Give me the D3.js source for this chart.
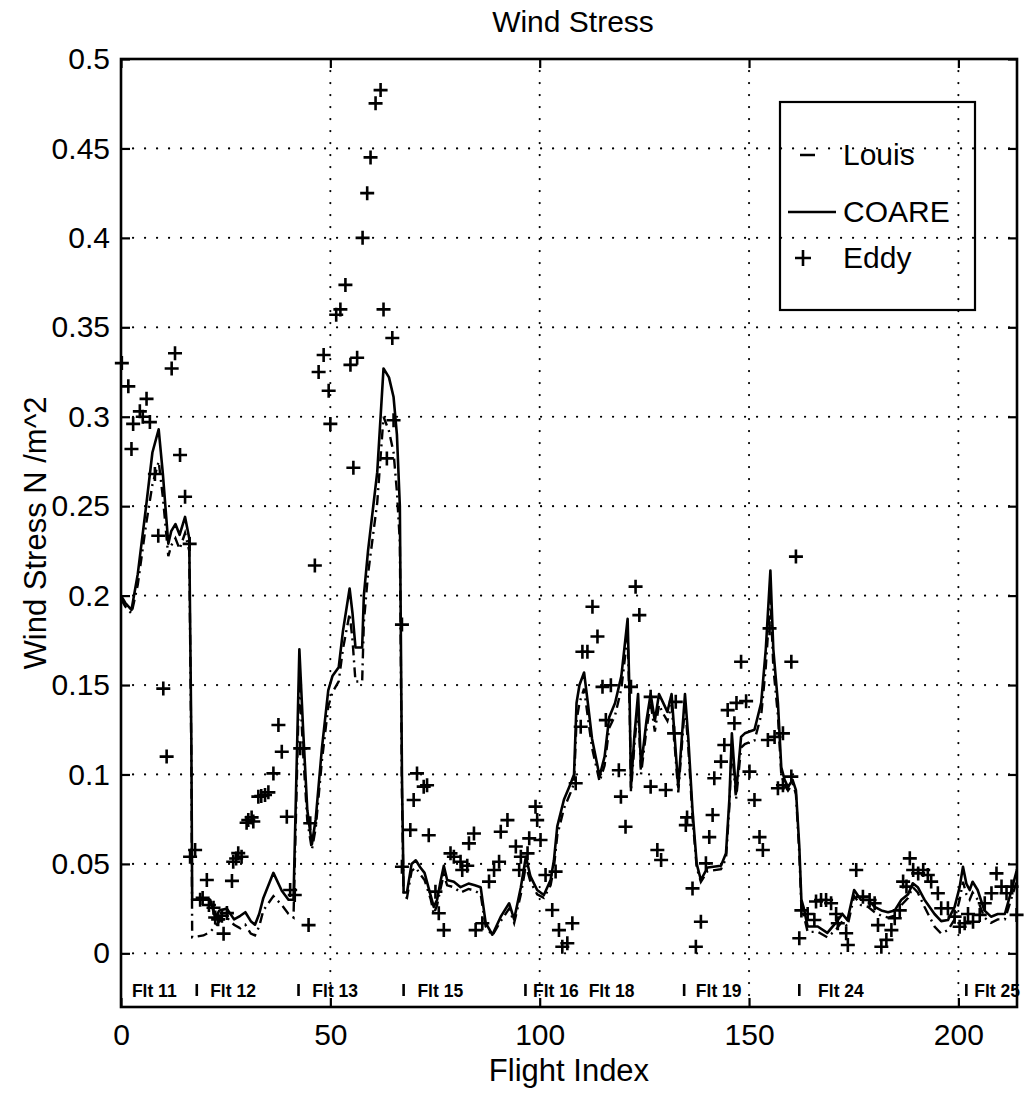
<!DOCTYPE html>
<html>
<head>
<meta charset="utf-8">
<script src="https://cdn.jsdelivr.net/npm/d3@7"></script>
<style>
  html, body { margin: 0; padding: 0; background: #fff; }
  svg { display: block; }
  text { font-family: "Liberation Sans", Arial, Helvetica, sans-serif; fill: #000; }
</style>
</head>
<body>
<svg id="chart" width="1024" height="1093"></svg>
<script>
// ---------------- DATA ----------------
const chartTitle = "Wind Stress";
const xLabel = "Flight Index";
const yLabel = "Wind Stress N /m^2";

const xTicks = [0, 50, 100, 150, 200];
const xTickLabels = ["0", "50", "100", "150", "200"];
const yTicks = [0, 0.05, 0.1, 0.15, 0.2, 0.25, 0.3, 0.35, 0.4, 0.45, 0.5];
const yTickLabels = ["0", "0.05", "0.1", "0.15", "0.2", "0.25", "0.3", "0.35", "0.4", "0.45", "0.5"];

const seriesNames = ["Louis", "COARE", "Eddy"];

// model lines (flight index breakpoints)
const lineIdx = [0, 1, 2.5, 4, 6, 7.5, 9, 10, 11.3, 12, 13, 14, 15.3, 16.3, 16.8, 17, 19.7, 21.3, 22.5, 23.5,
  25.3, 27, 28.5, 29.7, 31, 32, 33, 34, 36.4, 38.4, 40, 41.2, 42.6, 43.5, 44.5, 45.6, 46.5, 48, 49.5, 50.5,
  52, 53, 54.6, 55.3, 56, 57.6, 58, 59, 61.2, 62.7, 64, 65.1, 65.9, 66.6, 67.1, 67.5, 68.3, 69.4, 70.4, 71.5,
  72.5, 74, 74.7, 75.5, 76.3, 77.1, 77.9, 79.5, 81.1, 83, 84.5, 85.9, 87.1, 88.7, 90.7, 92.7, 93.9, 95.5, 96.7, 97.8,
  99.4, 101, 102.6, 103.4, 104.2, 105.8, 107.4, 108.2, 108.8, 109.5, 110.6, 111.5, 112.5, 114.3, 115.5, 116.6, 118, 119.5, 121, 121.5,
  121.8, 122.6, 123.5, 124.2, 125.5, 126.5, 127.5, 128.5, 129.5, 130.5, 131.5, 133.1, 134.7, 135.5, 136.5, 137.5, 138.5, 140.1, 143.3, 144.5,
  145.3, 145.9, 146.9, 148.1, 149, 151.3, 152.9, 154, 155.1, 155.8, 156.9, 157.7, 158.5, 159.3, 160.4, 161.2, 162, 162.5, 163, 164,
  166.4, 168.7, 170.7, 172.3, 173.5, 175.1, 176.7, 178.4, 180, 181.6, 183.2, 184.8, 186.4, 188, 189.1, 190.3, 191.9, 194.3, 195.9, 197.5,
  199.1, 200.3, 201.1, 201.9, 202.7, 203.4, 204.6, 206.2, 207.8, 209.4, 211.1, 212.7, 213.9, 214];

const coareVals = [0.200, 0.196, 0.192, 0.212, 0.250, 0.280, 0.293, 0.268, 0.229, 0.236, 0.240, 0.234, 0.244, 0.232, 0.120, 0.030, 0.030, 0.030, 0.020, 0.024,
  0.025, 0.019, 0.021, 0.023, 0.018, 0.016, 0.022, 0.031, 0.045, 0.035, 0.030, 0.030, 0.170, 0.125, 0.080, 0.061, 0.075, 0.115, 0.147, 0.155,
  0.160, 0.180, 0.204, 0.190, 0.171, 0.171, 0.200, 0.225, 0.269, 0.327, 0.322, 0.311, 0.290, 0.250, 0.100, 0.034, 0.034, 0.050, 0.052, 0.048,
  0.045, 0.032, 0.026, 0.030, 0.040, 0.049, 0.041, 0.040, 0.037, 0.039, 0.038, 0.037, 0.017, 0.0104, 0.0205, 0.028, 0.019, 0.037, 0.054, 0.043,
  0.0354, 0.0326, 0.041, 0.052, 0.071, 0.086, 0.095, 0.100, 0.140, 0.150, 0.157, 0.140, 0.120, 0.099, 0.110, 0.132, 0.140, 0.155, 0.187, 0.140,
  0.093, 0.121, 0.145, 0.104, 0.130, 0.145, 0.130, 0.145, 0.140, 0.135, 0.145, 0.093, 0.145, 0.120, 0.080, 0.050, 0.041, 0.048, 0.049, 0.056,
  0.086, 0.123, 0.0895, 0.121, 0.123, 0.125, 0.140, 0.170, 0.214, 0.170, 0.140, 0.104, 0.097, 0.093, 0.097, 0.0913, 0.060, 0.030, 0.026, 0.015,
  0.015, 0.0114, 0.017, 0.022, 0.0186, 0.0354, 0.030, 0.030, 0.026, 0.024, 0.023, 0.024, 0.030, 0.033, 0.0392, 0.037, 0.030, 0.022, 0.018, 0.0186,
  0.026, 0.037, 0.0484, 0.039, 0.0354, 0.040, 0.0354, 0.024, 0.0205, 0.022, 0.022, 0.0354, 0.046, 0.047];

const louisVals = [0.198, 0.194, 0.190, 0.206, 0.240, 0.262, 0.275, 0.255, 0.222, 0.228, 0.232, 0.226, 0.235, 0.225, 0.110, 0.009, 0.010, 0.012, 0.015, 0.018,
  0.020, 0.016, 0.014, 0.016, 0.011, 0.010, 0.015, 0.024, 0.032, 0.027, 0.022, 0.020, 0.155, 0.112, 0.074, 0.058, 0.070, 0.108, 0.138, 0.146,
  0.152, 0.170, 0.190, 0.175, 0.152, 0.152, 0.185, 0.212, 0.252, 0.300, 0.292, 0.280, 0.258, 0.230, 0.090, 0.032, 0.031, 0.046, 0.048, 0.044,
  0.041, 0.030, 0.022, 0.027, 0.036, 0.044, 0.038, 0.037, 0.034, 0.036, 0.035, 0.033, 0.015, 0.010, 0.018, 0.025, 0.017, 0.033, 0.049, 0.040,
  0.033, 0.031, 0.038, 0.048, 0.066, 0.081, 0.090, 0.095, 0.130, 0.140, 0.148, 0.132, 0.115, 0.096, 0.105, 0.126, 0.133, 0.148, 0.178, 0.135,
  0.090, 0.116, 0.139, 0.100, 0.125, 0.140, 0.124, 0.139, 0.134, 0.130, 0.139, 0.090, 0.139, 0.115, 0.076, 0.048, 0.040, 0.046, 0.047, 0.053,
  0.082, 0.117, 0.086, 0.115, 0.117, 0.119, 0.133, 0.160, 0.200, 0.160, 0.133, 0.100, 0.094, 0.091, 0.095, 0.089, 0.056, 0.026, 0.022, 0.012,
  0.012, 0.009, 0.013, 0.018, 0.015, 0.032, 0.027, 0.026, 0.023, 0.021, 0.020, 0.021, 0.027, 0.031, 0.037, 0.034, 0.026, 0.015, 0.011, 0.013,
  0.019, 0.030, 0.040, 0.033, 0.030, 0.034, 0.030, 0.020, 0.017, 0.019, 0.019, 0.031, 0.040, 0.041];

// eddy correlation measurements
const eddyIdx = [0.2, 1.75, 2.5, 2.9, 4.5, 5.2, 6.1, 6.9, 8.1, 8.9, 10.1, 10.9, 12.1, 12.9, 14.1, 15.3, 16.4, 16.5, 17.7,
  18.9, 19.5, 20.5, 21.0, 22.1, 22.5, 23.2, 24.1, 24.5, 25.3, 26.5, 26.8, 27.5, 28.0, 28.8, 30.0, 30.4, 31.2, 31.6, 32.8,
  33.5, 34.4, 35.2, 36.4, 37.6, 38.4, 39.6, 40.4, 41.5, 42.8, 43.6, 44.8, 45.2, 46.3,
  47.2, 48.4, 49.6, 50.0, 51.4, 52.4, 53.6, 54.8, 55.5, 56.4, 57.7, 58.8, 59.6, 60.8, 62.0, 62.7, 63.5, 64.8, 65.1, 67.1, 67.1,
  69.1, 69.9, 70.7, 72.3, 73.1, 73.5, 75.1, 75.9, 77.1, 78.7, 79.5, 81.1, 81.5, 82.7, 83.1, 84.3, 84.7, 86.3, 87.9, 89.1,
  90.3, 90.7, 92.3, 94.3, 95.1, 95.5, 97.1, 97.5, 99.0, 99.4, 100.2, 101.4, 103.0, 103.8, 104.6, 105.4, 106.6, 107.8,
  108.6, 109.8, 110.2, 111.4, 112.6, 113.8, 115.0, 115.8, 117.0, 118.9, 119.4, 120.5, 121.8, 122.9, 123.8, 126.5, 126.5,
  128.1, 129.0, 130.1, 132.1, 132.5, 134.9, 135.2, 136.5, 137.3, 138.5, 139.7, 140.5, 141.3, 141.7, 143.3, 144.1, 144.9, 146.5,
  147.0, 148.1, 149.3, 150.1, 151.3, 152.5, 153.3, 154.5, 154.9, 156.1, 156.9, 158.1, 158.1, 160.1, 160.1, 161.2,
  162.0, 162.5, 164.0, 165.6, 166.0, 167.2, 168.4, 169.6, 170.8, 171.2, 173.2, 173.6, 175.6, 177.2, 178.8, 180.0, 180.8,
  181.6, 182.8, 184.0, 184.8, 186.0, 186.8, 187.6, 188.4, 189.2, 190.4, 191.6, 192.7, 193.5, 195.1, 195.9, 197.5, 199.1,
  200.3, 201.5, 202.3, 203.5, 205.1, 206.3, 207.9, 209.1, 210.3, 211.5, 212.7, 213.9];

const eddyVals = [0.330, 0.317, 0.282, 0.296, 0.303, 0.300, 0.310, 0.297, 0.268, 0.2335, 0.148, 0.110, 0.327, 0.3355, 0.2786, 0.2553, 0.2289, 0.054, 0.0578,
  0.030, 0.031, 0.041, 0.027, 0.0255, 0.020, 0.019, 0.021, 0.011, 0.0225, 0.0405, 0.0512, 0.053, 0.056, 0.054, 0.073, 0.0745, 0.076, 0.0737, 0.0876,
  0.088, 0.0885, 0.090, 0.1006, 0.1277, 0.1127, 0.0764, 0.0354, 0.0326, 0.1146, 0.1146, 0.0158, 0.0727, 0.2168,
  0.325, 0.3345, 0.3145, 0.296, 0.357, 0.360, 0.3737, 0.329, 0.2715, 0.333, 0.400, 0.425, 0.445, 0.4752, 0.4826, 0.360, 0.2767, 0.344, 0.298, 0.1838, 0.0484,
  0.069, 0.0857, 0.1006, 0.0932, 0.094, 0.066, 0.0345, 0.0224, 0.013, 0.0559, 0.054, 0.0512, 0.0466, 0.049, 0.0615, 0.067, 0.013, 0.0168, 0.0401, 0.0466,
  0.0512, 0.068, 0.0745, 0.0597, 0.0466, 0.054, 0.0559, 0.0643, 0.082, 0.0745, 0.0634, 0.0438, 0.0242, 0.0457, 0.013, 0.0037, 0.0056, 0.0168,
  0.0951, 0.1267, 0.1686, 0.1686, 0.1938, 0.1771, 0.149, 0.1304, 0.1499, 0.1024, 0.0876, 0.0708, 0.149, 0.205, 0.1891, 0.1434, 0.0932,
  0.0578, 0.0522, 0.0913, 0.123, 0.1406, 0.0717, 0.076, 0.0363, 0.0037, 0.0177, 0.0503, 0.065, 0.0773, 0.0979, 0.1072, 0.1165, 0.136, 0.1286,
  0.140, 0.163, 0.141, 0.1016, 0.0857, 0.065, 0.0578, 0.1193, 0.1817, 0.121, 0.0923, 0.123, 0.094, 0.0988, 0.163, 0.2218,
  0.0084, 0.024, 0.022, 0.0186, 0.029, 0.0298, 0.0298, 0.028, 0.022, 0.0168, 0.0112, 0.0047, 0.0466, 0.0317, 0.0298, 0.028, 0.0158,
  0.0037, 0.0075, 0.013, 0.0196, 0.024, 0.0401, 0.0373, 0.0531, 0.0466, 0.0447, 0.0466, 0.0438, 0.0401, 0.0336, 0.0252, 0.0252, 0.0205,
  0.0149, 0.0168, 0.022, 0.0177, 0.0215, 0.028, 0.0336, 0.0447, 0.0373, 0.0336, 0.0373, 0.0215];

// flight annotations (in flight-index units)
const flightNames = ["Flt 11", "Flt 12", "Flt 13", "Flt 15", "Flt 16", "Flt 18", "Flt 19", "Flt 24", "Flt 25"];
const flightTextIdx = [2.6, 21.3, 45.7, 70.8, 98.4, 111.7, 137.3, 166.5, 203.8];
const flightBreakIdx = [18.1, 42.4, 67.5, 96.6, 134.5, 162.0, 201.9];

// ---------------- DRAW ----------------
const svg = d3.select("#chart");
const L = 121, R = 1017, T = 59, B = 1007;
const x = d3.scaleLinear().domain([0, 214]).range([L, R]);
const y = d3.scaleLinear().domain([-0.03, 0.5]).range([B, T]);

// grid (dotted)
const grid = svg.append("g").attr("stroke", "#000").attr("stroke-width", 2.2)
  .attr("stroke-dasharray", "0.1,11.9").attr("stroke-linecap", "round");
grid.selectAll("line.gx").data(xTicks.filter(d => d > 0)).join("line")
  .attr("x1", d => x(d)).attr("x2", d => x(d)).attr("y1", T).attr("y2", B);
grid.selectAll("line.gy").data(yTicks.filter(d => d < 0.5)).join("line")
  .attr("x1", L).attr("x2", R).attr("y1", d => y(d)).attr("y2", d => y(d));

// clip for lines
svg.append("clipPath").attr("id", "plotclip").append("rect")
  .attr("x", L).attr("y", T).attr("width", R - L).attr("height", B - T);

const lineGen = vals => d3.line().x((d, i) => x(lineIdx[i])).y((d, i) => y(vals[i]))(vals);

svg.append("path").attr("d", lineGen(louisVals)).attr("fill", "none").attr("stroke", "#000")
  .attr("stroke-width", 2.4).attr("stroke-dasharray", "10,5,2,5").attr("clip-path", "url(#plotclip)");
svg.append("path").attr("d", lineGen(coareVals)).attr("fill", "none").attr("stroke", "#000")
  .attr("stroke-width", 2.6).attr("stroke-linejoin", "round").attr("clip-path", "url(#plotclip)");

// eddy plus markers
const plusPath = "M-7,0H7M0,-7V7";
svg.append("g").selectAll("path").data(eddyIdx).join("path")
  .attr("transform", (d, i) => `translate(${x(d)},${y(eddyVals[i])})`)
  .attr("d", plusPath).attr("stroke", "#000").attr("stroke-width", 2.6).attr("fill", "none");

// axes
const fontSize = 30;
const axL = svg.append("g").attr("transform", `translate(${L},0)`)
  .call(d3.axisLeft(y).tickValues(yTicks).tickFormat((d, i) => yTickLabels[i]).tickSizeInner(-9).tickSizeOuter(0).tickPadding(11));
const axB = svg.append("g").attr("transform", `translate(0,${B})`)
  .call(d3.axisBottom(x).tickValues(xTicks).tickFormat((d, i) => xTickLabels[i]).tickSizeInner(-9).tickSizeOuter(0).tickPadding(17));
const axR = svg.append("g").attr("transform", `translate(${R},0)`)
  .call(d3.axisRight(y).tickValues(yTicks).tickFormat("").tickSizeInner(-9).tickSizeOuter(0));
const axT = svg.append("g").attr("transform", `translate(0,${T})`)
  .call(d3.axisTop(x).tickValues(xTicks).tickFormat("").tickSizeInner(-9).tickSizeOuter(0));
[axL, axB, axR, axT].forEach(a => {
  a.select(".domain").remove();
  a.selectAll(".tick line").attr("stroke", "#000").attr("stroke-width", 2.2);
  a.selectAll("text").attr("font-size", fontSize).attr("font-family", "'Liberation Sans', Arial, sans-serif").attr("fill", "#000");
});

// frame
svg.append("rect").attr("x", L).attr("y", T).attr("width", R - L).attr("height", B - T)
  .attr("fill", "none").attr("stroke", "#000").attr("stroke-width", 2.6);

// flight annotations
svg.append("g").selectAll("text").data(flightNames).join("text")
  .attr("x", (d, i) => x(flightTextIdx[i])).attr("y", 997)
  .attr("font-size", 17.5).attr("font-weight", "bold").text(d => d);
svg.append("g").selectAll("line").data(flightBreakIdx).join("line")
  .attr("x1", d => x(d)).attr("x2", d => x(d)).attr("y1", 984).attr("y2", 996)
  .attr("stroke", "#000").attr("stroke-width", 2.6);

// titles
svg.append("text").attr("x", 573).attr("y", 32).attr("text-anchor", "middle")
  .attr("font-size", 30).text(chartTitle);
svg.append("text").attr("x", (L + R) / 2).attr("y", 1081).attr("text-anchor", "middle")
  .attr("font-size", 31).text(xLabel);
svg.append("text").attr("transform", `translate(46,${(T + B) / 2}) rotate(-90)`).attr("text-anchor", "middle")
  .attr("font-size", 31).text(yLabel);

// legend
const lg = svg.append("g");
lg.append("rect").attr("x", 780).attr("y", 102).attr("width", 195).attr("height", 208)
  .attr("fill", "none").attr("stroke", "#000").attr("stroke-width", 2.2);
const legY = [155, 212, 258];
lg.append("line").attr("x1", 788).attr("x2", 836).attr("y1", legY[0]).attr("y2", legY[0])
  .attr("stroke", "#000").attr("stroke-width", 2.4).attr("stroke-dasharray", "0,12,15,30");
lg.append("line").attr("x1", 788).attr("x2", 836).attr("y1", legY[1]).attr("y2", legY[1])
  .attr("stroke", "#000").attr("stroke-width", 2.6);
lg.append("path").attr("transform", `translate(803,${legY[2]})`).attr("d", "M-8,0H8M0,-8V8")
  .attr("stroke", "#000").attr("stroke-width", 2.6);
lg.selectAll("text").data(seriesNames).join("text")
  .attr("x", 843).attr("y", (d, i) => legY[i] + 10).attr("font-size", 30).text(d => d);
</script>
</body>
</html>
